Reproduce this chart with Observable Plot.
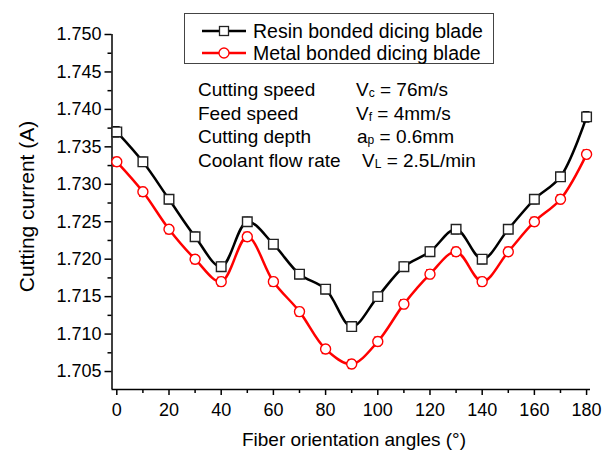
<!DOCTYPE html>
<html><head><meta charset="utf-8">
<script src="https://cdn.jsdelivr.net/npm/d3@7"></script>
<script src="https://cdn.jsdelivr.net/npm/@observablehq/plot@0.6"></script>
<style>body{margin:0;background:#fff}</style>
</head><body><div id="chart"></div>
<script>
const angles = [0,10,20,30,40,50,60,70,80,90,100,110,120,130,140,150,160,170,180];
const resin  = [1.737,1.733,1.728,1.723,1.719,1.725,1.722,1.718,1.716,1.711,1.715,1.719,1.721,1.724,1.720,1.724,1.728,1.731,1.739];
const metal  = [1.733,1.729,1.724,1.720,1.717,1.723,1.717,1.713,1.708,1.706,1.709,1.714,1.718,1.721,1.717,1.721,1.725,1.728,1.734];
const resinErr = [0.0007,0.0006,0.0006,0.0006,0.0006,0.0006,0.0006,0.0006,0.0006,0.0006,0.0006,0.0006,0.0006,0.0006,0.0006,0.0006,0.0006,0.0006,0.0007];
const metalErr = [0.0006,0.0006,0.0006,0.0006,0.0006,0.0006,0.0006,0.0006,0.0006,0.0006,0.0006,0.0006,0.0006,0.0006,0.0006,0.0006,0.0006,0.0006,0.0006];
const xTicks = [0,20,40,60,80,100,120,140,160,180];
const xMinor = [10,30,50,70,90,110,130,150,170];
const yTicks = [1.705,1.710,1.715,1.720,1.725,1.730,1.735,1.740,1.745,1.750];
const yMinor = [1.7075,1.7125,1.7175,1.7225,1.7275,1.7325,1.7375,1.7425,1.7475];
const seriesNames = ["Resin bonded dicing blade","Metal bonded dicing blade"];
const seriesColors = ["#000000","#ff0000"];
const annotationLabels = ["Cutting speed","Feed speed","Cutting depth","Coolant flow rate"];
const annotationSymbols = [["V","c"],["V","f"],["a","p"],["V","L"]];
const annotationValues = [" = 76m/s"," = 4mm/s"," = 0.6mm"," = 2.5L/min"];
const xLabel = "Fiber orientation angles (\u00B0)";
const yLabel = "Cutting current (A)";

const resinData = angles.map((a,i)=>({angle:a, value:resin[i], err:resinErr[i]}));
const metalData = angles.map((a,i)=>({angle:a, value:metal[i], err:metalErr[i]}));

function errMarks(data, color) {
  return [
    Plot.ruleX(data, {x:"angle", y1:d=>d.value-d.err, y2:d=>d.value+d.err, stroke:color, strokeWidth:1}),
    Plot.ruleY(data, {y:d=>d.value-d.err, x1:d=>d.angle-1.3, x2:d=>d.angle+1.3, stroke:color, strokeWidth:1.2}),
    Plot.ruleY(data, {y:d=>d.value+d.err, x1:d=>d.angle-1.3, x2:d=>d.angle+1.3, stroke:color, strokeWidth:1.2})
  ];
}

const xDomain = [-1.84, 181.5];
const yDomain = [1.7026, 1.750];
const FONT = "'Liberation Sans', Arial, sans-serif";

const plot = Plot.plot({
  width: 603, height: 453,
  marginLeft: 111.5, marginRight: 13, marginTop: 34, marginBottom: 64,
  style: {fontFamily: FONT, background: "#fff", color: "#000"},
  x: {domain: xDomain},
  y: {domain: yDomain},
  marks: [
    Plot.axisX({ticks: xTicks, tickSize: 6, tickPadding: 8, fontSize: 18, label: null, strokeWidth: 1.5, tickFormat: d3.format("d")}),
    Plot.axisX({ticks: xMinor, tickSize: 4, text: null, label: null, strokeWidth: 1.5}),
    Plot.axisY({ticks: yTicks, tickSize: 7, tickPadding: 3.5, fontSize: 18, label: null, strokeWidth: 1.5, tickFormat: d3.format(".3f")}),
    Plot.axisY({ticks: yMinor, tickSize: 4, text: null, label: null, strokeWidth: 1.5}),
    Plot.ruleX([xDomain[0]], {strokeWidth: 1.5}),
    Plot.ruleY([yDomain[0]], {strokeWidth: 1.5}),
    Plot.line(resinData, {x:"angle", y:"value", stroke: seriesColors[0], strokeWidth: 2.5, curve: "catmull-rom"}),
    Plot.line(metalData, {x:"angle", y:"value", stroke: seriesColors[1], strokeWidth: 2.5, curve: "catmull-rom"}),
    ...errMarks(resinData, seriesColors[0]),
    ...errMarks(metalData, seriesColors[1]),
    Plot.dot(resinData, {x:"angle", y:"value", symbol:"square", r:5.4, fill:"#fff", stroke:"#222", strokeWidth:1.4}),
    Plot.dot(metalData, {x:"angle", y:"value", symbol:"circle", r:5, fill:"#fff", stroke:seriesColors[1], strokeWidth:1.4})
  ]
});
document.getElementById("chart").appendChild(plot);

const svg = d3.select(plot);
// Axis titles
svg.append("text").attr("transform", "translate(26,206.5) rotate(-90)")
  .attr("text-anchor", "middle").attr("dominant-baseline", "central")
  .attr("font-family", FONT).attr("font-size", 21).attr("fill", "#000").text(yLabel);
svg.append("text").attr("x", 354).attr("y", 446)
  .attr("text-anchor", "middle")
  .attr("font-family", FONT).attr("font-size", 19).attr("fill", "#000").text(xLabel);

// Legend
const lg = svg.append("g").attr("font-family", FONT).attr("text-anchor", "start");
lg.append("rect").attr("x", 184.5).attr("y", 13.5).attr("width", 309).attr("height", 50)
  .attr("fill", "#fff").attr("stroke", "#444").attr("stroke-width", 1);
const symbols = ["square","circle"];
seriesNames.forEach((name, i) => {
  const cy = 31 + i * 22;
  lg.append("line").attr("x1", 202).attr("x2", 246).attr("y1", cy).attr("y2", cy)
    .attr("stroke", seriesColors[i]).attr("stroke-width", 2.5);
  if (symbols[i] === "square") {
    lg.append("rect").attr("x", 219.5).attr("y", cy - 4.5).attr("width", 9).attr("height", 9)
      .attr("fill", "#fff").attr("stroke", "#222").attr("stroke-width", 1.3);
  } else {
    lg.append("circle").attr("cx", 224).attr("cy", cy).attr("r", 5)
      .attr("fill", "#fff").attr("stroke", seriesColors[i]).attr("stroke-width", 1.3);
  }
  lg.append("text").attr("x", 253).attr("y", cy + 6.5).attr("font-size", 19.5).attr("fill", "#000").text(name);
});

// Annotation
const ann = svg.append("g").attr("font-family", FONT).attr("font-size", 19).attr("fill", "#000").attr("text-anchor", "start");
const valueX = [356, 356, 357, 362];
annotationLabels.forEach((lab, i) => {
  const by = 96 + i * 23.7;
  ann.append("text").attr("x", 198).attr("y", by).text(lab);
  const t = ann.append("text").attr("x", valueX[i]).attr("y", by);
  t.append("tspan").text(annotationSymbols[i][0]);
  t.append("tspan").attr("font-size", 12).attr("dy", 1).text(annotationSymbols[i][1]);
  t.append("tspan").attr("dy", -1).text(annotationValues[i]);
});
</script>
</body></html>
